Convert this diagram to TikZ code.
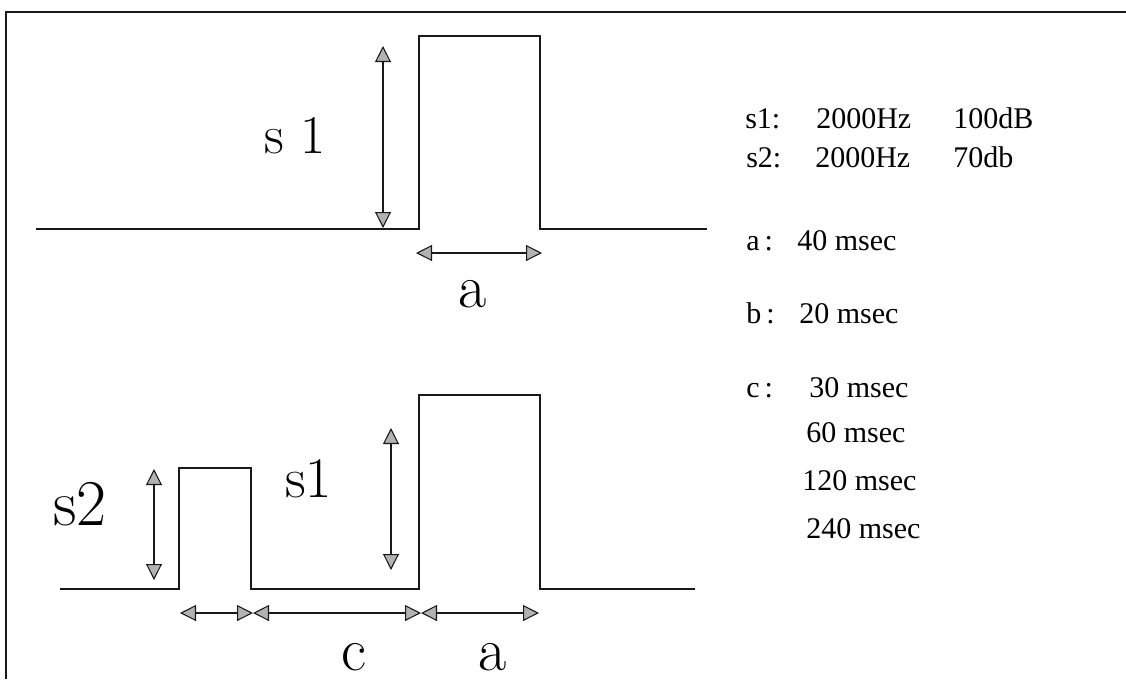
\documentclass[tikz,border=0pt]{standalone}
\usepackage{fontspec}
\newfontfamily\timesfont{Liberation Serif}
\usetikzlibrary{arrows.meta}
\tikzset{
  wave/.style={line width=1.5pt, black!90},
  frame/.style={line width=1.5pt, black!90},
  dimtip/.tip={Triangle[length=12pt,width=12pt,fill=gray!60,line width=0.8pt]},
  dim/.style={line width=1.1pt, black!90, dimtip-dimtip},
  biglabel/.style={anchor=base west, inner sep=0pt, black},
  info/.style={anchor=base west, inner sep=0pt, font=\timesfont\fontsize{22.5pt}{27pt}\selectfont, black},
}
\begin{document}
\begin{tikzpicture}[x=0.75pt,y=-0.75pt]
\useasboundingbox (0,0) rectangle (1126,679);
% frame (top and left edges)
\draw[frame] (6,679) -- (6,12) -- (1126,12);
% top waveform
\draw[wave] (36,229) -- (419,229) -- (419,36) -- (540,36) -- (540,229) -- (707,229);
% bottom waveform
\draw[wave] (60,589) -- (179,589) -- (179,468) -- (251,468) -- (251,589) -- (419,589) -- (419,395) -- (540,395) -- (540,589) -- (695,589);
% dimension coordinates
\coordinate (s1t) at (383,46);
\coordinate (s1b) at (383,228);
\coordinate (a1l) at (416,253);
\coordinate (a1r) at (542,253);
\coordinate (s2t) at (154,469);
\coordinate (s2b) at (154,580);
\coordinate (s1bt) at (391,428);
\coordinate (s1bb) at (391,570);
\coordinate (b0) at (180,613);
\coordinate (b1) at (253,613);
\coordinate (b2) at (421,613);
\coordinate (b3) at (539,613);
% dimension arrows
\draw[dim] (s1t) -- (s1b);
\draw[dim] (a1l) -- (a1r);
\draw[dim] (s2t) -- (s2b);
\draw[dim] (s1bt) -- (s1bb);
\draw[dim] (b0) -- (b1);
\draw[dim] (b1) -- (b2);
\draw[dim] (b2) -- (b3);
% big labels
\node[biglabel, font=\fontsize{41pt}{41pt}\selectfont] (ls1top) at (264,153) {s 1};
\node[biglabel, font=\fontsize{46pt}{46pt}\selectfont] (latop) at (458,307) {a};
\node[biglabel, font=\fontsize{49pt}{49pt}\selectfont] (ls2) at (53,525) {s2};
\node[biglabel, font=\fontsize{43pt}{43pt}\selectfont] (ls1bot) at (285,497) {s1};
\node[biglabel, font=\fontsize{46pt}{46pt}\selectfont] (lc) at (341,670) {c};
\node[biglabel, font=\fontsize{46pt}{46pt}\selectfont] (labot) at (478,670) {a};
% info text
\node[info] (i1a) at (745,128) {s1:};
\node[info] (i1b) at (816,128) {2000Hz};
\node[info] (i1c) at (953,128) {100dB};
\node[info] (i2a) at (746,167) {s2:};
\node[info] (i2b) at (815,167) {2000Hz};
\node[info] (i2c) at (953,167) {70db};
\node[info] (i3a) at (746,250) {a\,:};
\node[info] (i3b) at (797,250) {40 msec};
\node[info] (i4a) at (746,323) {b\,:};
\node[info] (i4b) at (799,323) {20 msec};
\node[info] (i5a) at (746,397) {c\,:};
\node[info] (i5b) at (809,397) {30 msec};
\node[info] (i6) at (806,442) {60 msec};
\node[info] (i7) at (802,490) {120 msec};
\node[info] (i8) at (806,538) {240 msec};
\end{tikzpicture}
\end{document}
